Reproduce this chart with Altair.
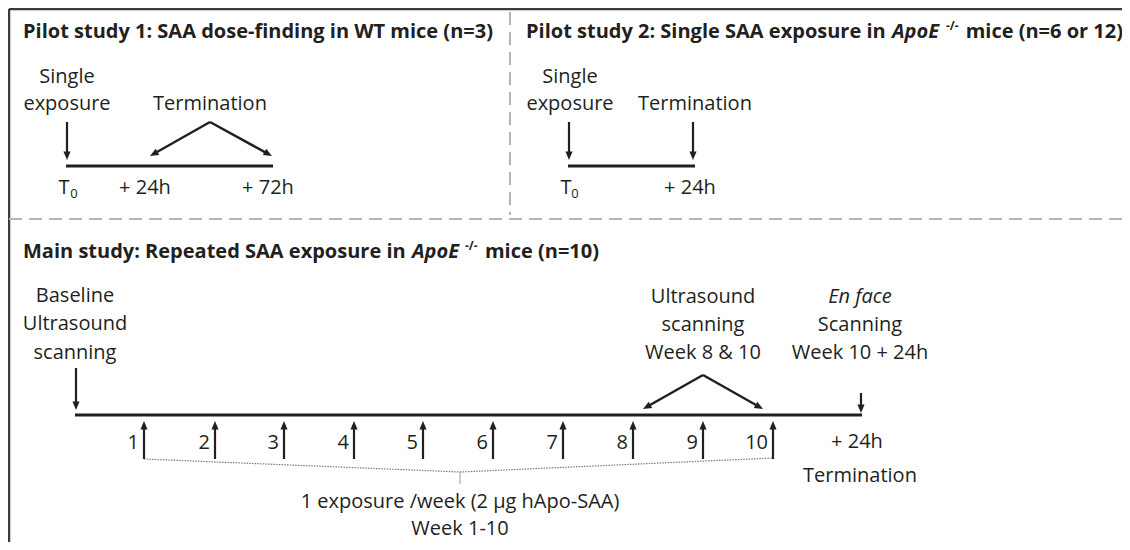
import math
import pandas as pd
import altair as alt

INK = "#231f20"
FONT = "Open Sans"
W, H = 1114, 534          # drawing area (page keeps an 8px margin)
X0, Y0 = 8, 8

# ---------------- text content (reference pixel coordinates) ----------------
title_text = ["Pilot study 1: SAA dose-finding in WT mice (n=3)",
              "Pilot study 2: Single SAA exposure in",
              "Main study: Repeated SAA exposure in"]
title_x = [23, 526, 23]
title_y = [32, 32, 252]

gene_text = ["ApoE", "ApoE"]
gene_x = [892, 412]
gene_y = [32, 252]

sup_text = ["-/-", "-/-"]
sup_x = [946, 465]
sup_y = [26, 246]

tail_text = ["mice (n=6 or 12)", "mice (n=10)"]
tail_x = [1123, 599]
tail_y = [32, 252]

label_text = ["Single", "exposure", "Termination", "+ 24h", "+ 72h",
              "Single", "exposure", "Termination", "+ 24h",
              "Baseline", "Ultrasound", "scanning",
              "Ultrasound", "scanning", "Week 8 & 10",
              "Scanning", "Week 10 + 24h",
              "+ 24h", "Termination",
              "1 exposure /week (2 µg hApo-SAA)", "Week 1-10"]
label_x = [67, 67, 210, 145, 268,
           570, 570, 695, 690,
           75, 75, 75,
           703, 703, 703,
           860, 860,
           857, 860,
           460, 460]
label_y = [77, 104, 104, 188, 188,
           77, 104, 104, 188,
           296, 324, 353,
           297, 325, 353,
           325, 353,
           442, 476,
           502, 529]

italic_text = ["En face"]
italic_x = [860]
italic_y = [297]

t_text = ["T", "T"]
t_x = [64, 566]
t_y = [188, 188]
sub_text = ["0", "0"]
sub_x = [74, 575]
sub_y = [194, 194]

weeks = ["1", "2", "3", "4", "5", "6", "7", "8", "9", "10"]
week_x = [144, 215, 284, 354, 423, 493, 563, 633, 703, 773]
week_tail_y = 459
week_tip_y = 421
week_label_y = 443

# ---------------- line work ----------------
timeline_x1 = [66, 568, 75]
timeline_x2 = [273, 695, 862]
timeline_y = [166, 166, 415]

down_x = [67, 569, 693, 76, 861]
down_top = [122, 122, 122, 368, 393]
down_tip = [160, 160, 160, 410, 413]

apex_x = [210, 210, 703, 703]
apex_y = [122, 122, 375, 375]
diag_tip_x = [150, 272, 643, 763]
diag_tip_y = [156, 156, 409, 409]

bracket_x1 = [144, 460]
bracket_y1 = [459, 472]
bracket_x2 = [460, 773]
bracket_y2 = [472, 458]
brace_tick = [460, 472, 484]

dash_x1 = [510, 9]
dash_y1 = [12, 219]
dash_x2 = [510, 1130]
dash_y2 = [215, 219]

frame_x1 = [9, 9]
frame_y1 = [9, 9]
frame_x2 = [1130, 9]
frame_y2 = [9, 550]

# ---------------- helpers ----------------
xs = alt.Scale(domain=[X0, X0 + W], nice=False, zero=False)
ys = alt.Scale(domain=[Y0, Y0 + H], nice=False, zero=False, reverse=True)


def enc_xy():
    return dict(x=alt.X("x:Q", scale=xs, axis=None),
                y=alt.Y("y:Q", scale=ys, axis=None))


def seg_layer(x1, y1, x2, y2, **mk):
    df = pd.DataFrame({"x": x1, "y": y1, "x2": x2, "y2": y2})
    return alt.Chart(df).mark_rule(**mk).encode(
        **enc_xy(), x2="x2:Q", y2="y2:Q")


def text_layer(txt, x, y, **mk):
    df = pd.DataFrame({"x": x, "y": y, "t": txt})
    base = dict(font=FONT, color=INK, baseline="middle")
    base.update(mk)
    return alt.Chart(df).mark_text(**base).encode(**enc_xy(), text="t:N")


# arrows: shafts + heads
sx1, sy1, sx2, sy2 = [], [], [], []
hx, hy, ha = [], [], []
HEAD_R = 5.5


def add_arrow(x1, y1, x2, y2):
    dx, dy = x2 - x1, y2 - y1
    L = math.hypot(dx, dy)
    ux, uy = dx / L, dy / L
    sx1.append(x1); sy1.append(y1)
    sx2.append(x2 - ux * 4); sy2.append(y2 - uy * 4)
    hx.append(x2 - ux * HEAD_R); hy.append(y2 - uy * HEAD_R)
    ha.append(math.degrees(math.atan2(ux, -uy)) % 360)


for x, t, b in zip(down_x, down_top, down_tip):
    add_arrow(x, t, x, b)
for x in week_x:
    add_arrow(x, week_tail_y, x, week_tip_y)

dx1, dy1, dx2, dy2 = [], [], [], []
dhx, dhy, dha = [], [], []
for ax, ay, tx, ty in zip(apex_x, apex_y, diag_tip_x, diag_tip_y):
    L = math.hypot(tx - ax, ty - ay)
    ux, uy = (tx - ax) / L, (ty - ay) / L
    dx1.append(ax); dy1.append(ay)
    dx2.append(tx - ux * 4); dy2.append(ty - uy * 4)
    dhx.append(tx - ux * HEAD_R); dhy.append(ty - uy * HEAD_R)
    dha.append(math.degrees(math.atan2(ux, -uy)) % 360)

HEAD = "M0,-1L0.65,0.55L-0.65,0.55Z"


def head_layer(x, y, a):
    df = pd.DataFrame({"x": x, "y": y, "a": a})
    return alt.Chart(df).mark_point(
        shape=HEAD, size=121, filled=True, color=INK, opacity=1, strokeWidth=0
    ).encode(**enc_xy(), angle=alt.Angle("a:Q", scale=None))


TFS = 20
LFS = 20
layers = [
    seg_layer(frame_x1, frame_y1, frame_x2, frame_y2, color="#3b3b3b", strokeWidth=2.5),
    seg_layer(dash_x1, dash_y1, dash_x2, dash_y2, color="#b5b5b5", strokeWidth=2,
              strokeDash=[13, 7]),
    seg_layer(bracket_x1, bracket_y1, bracket_x2, bracket_y2, color="#7a7a7a",
              strokeWidth=1.2, strokeDash=[1.5, 1.2]),
    seg_layer([brace_tick[0]], [brace_tick[1]], [brace_tick[0]], [brace_tick[2]],
              color="#9a9a9a", strokeWidth=1),
    seg_layer(timeline_x1, timeline_y, timeline_x2, timeline_y, color=INK, strokeWidth=3),
    seg_layer(sx1, sy1, sx2, sy2, color=INK, strokeWidth=2.2),
    seg_layer(dx1, dy1, dx2, dy2, color=INK, strokeWidth=2.5),
    head_layer(hx, hy, ha),
    head_layer(dhx, dhy, dha),
    text_layer(title_text, title_x, title_y, align="left", fontSize=TFS, fontWeight="bold"),
    text_layer(gene_text, gene_x, gene_y, align="left", fontSize=TFS, fontWeight="bold",
               fontStyle="italic"),
    text_layer(sup_text, sup_x, sup_y, align="left", fontSize=12, fontWeight="bold"),
    text_layer(tail_text, tail_x, tail_y, align="right", fontSize=TFS, fontWeight="bold"),
    text_layer(label_text, label_x, label_y, align="center", fontSize=LFS),
    text_layer(italic_text, italic_x, italic_y, align="center", fontSize=LFS,
               fontStyle="italic"),
    text_layer(t_text, t_x, t_y, align="center", fontSize=LFS),
    text_layer(sub_text, sub_x, sub_y, align="center", fontSize=13),
    text_layer(weeks, [x - 5 for x in week_x], [week_label_y] * len(weeks),
               align="right", fontSize=LFS),
]

chart = alt.layer(*layers).properties(
    width=W, height=H,
    autosize=alt.AutoSizeParams(type="none"),
    padding=0,
    background="white",
).configure_view(stroke=None)

chart.save("out.html", embed_options={"renderer": "svg", "actions": False})
